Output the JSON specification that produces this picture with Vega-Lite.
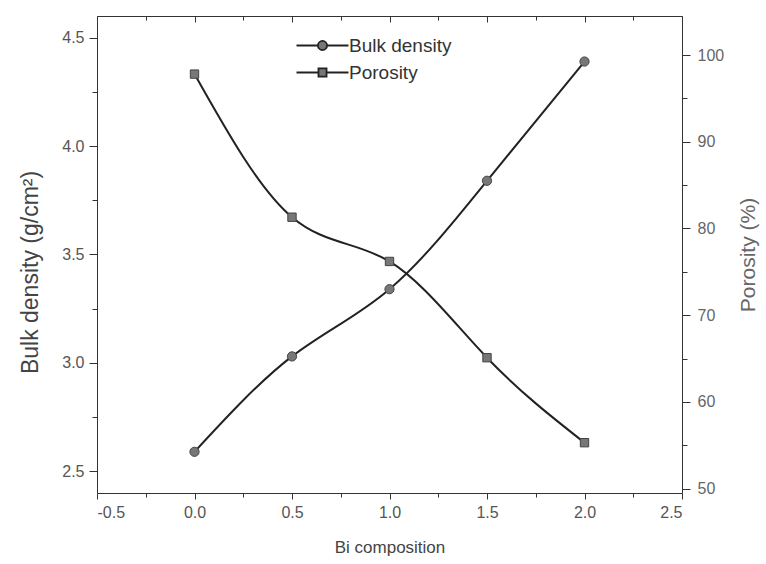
{
  "$schema": "https://vega.github.io/schema/vega-lite/v6.json",
  "autosize": "none",
  "width": 585,
  "height": 477,
  "padding": {"left": 97, "top": 16, "right": 84, "bottom": 71},
  "background": "white",
  "config": {
    "view": {"stroke": null},
    "font": "Liberation Sans",
    "axis": {
      "grid": false,
      "domainColor": "#333",
      "tickColor": "#333",
      "labelColor": "#555",
      "labelFont": "Liberation Sans",
      "labelFontSize": 16,
      "titleFont": "Liberation Sans",
      "titleFontSize": 17,
      "titleFontWeight": "normal",
      "titleColor": "#444"
    }
  },
  "data": {
    "values": [
      {"bi": 0.0, "series": "Bulk density", "value": 2.59},
      {"bi": 0.5, "series": "Bulk density", "value": 3.03},
      {"bi": 1.0, "series": "Bulk density", "value": 3.34},
      {"bi": 1.5, "series": "Bulk density", "value": 3.84},
      {"bi": 2.0, "series": "Bulk density", "value": 4.39},
      {"bi": 0.0, "series": "Porosity", "value": 97.8},
      {"bi": 0.5, "series": "Porosity", "value": 81.3},
      {"bi": 1.0, "series": "Porosity", "value": 76.2},
      {"bi": 1.5, "series": "Porosity", "value": 65.1},
      {"bi": 2.0, "series": "Porosity", "value": 55.3}
    ]
  },
  "layer": [
    {
      "transform": [{"filter": "datum.series == 'Bulk density'"}],
      "encoding": {
        "x": {
          "field": "bi", "type": "quantitative",
          "scale": {"domain": [-0.5, 2.5], "nice": false, "zero": false},
          "axis": {
            "orient": "bottom",
            "title": "Bi composition",
            "values": [-0.5, -0.25, 0, 0.25, 0.5, 0.75, 1, 1.25, 1.5, 1.75, 2, 2.25, 2.5],
            "labelExpr": "abs(datum.value*2 - round(datum.value*2)) < 0.001 ? replace(format(datum.value, '.1f'), '\u2212', '-') : ''",
            "tickSize": {"condition": {"test": "abs(datum.value*2 - round(datum.value*2)) < 0.001", "value": 6}, "value": 4},
            "labelPadding": 5,
            "titlePadding": 19
          }
        },
        "y": {
          "field": "value", "type": "quantitative",
          "scale": {"domain": [2.4, 4.6], "nice": false, "zero": false},
          "axis": {
            "orient": "left",
            "title": "Bulk density (g/cm²)",
            "titleFontSize": 23,
            "values": [2.5, 2.75, 3, 3.25, 3.5, 3.75, 4, 4.25, 4.5],
            "labelExpr": "abs(datum.value*2 - round(datum.value*2)) < 0.001 ? format(datum.value, '.1f') : ''",
            "tickSize": {"condition": {"test": "abs(datum.value*2 - round(datum.value*2)) < 0.001", "value": 8}, "value": 5},
            "labelPadding": 5,
            "titlePadding": 19,
            "titleY": 256
          }
        }
      },
      "layer": [
        {"mark": {"type": "line", "interpolate": "natural", "color": "#222", "strokeWidth": 2, "clip": true}},
        {"mark": {"type": "point", "shape": "circle", "filled": true, "fill": "#777", "stroke": "#444", "strokeWidth": 1, "size": 85, "opacity": 1}}
      ]
    },
    {
      "transform": [{"filter": "datum.series == 'Porosity'"}],
      "encoding": {
        "x": {
          "field": "bi", "type": "quantitative",
          "axis": {
            "orient": "top",
            "title": null,
            "labels": false,
            "values": [-0.5, -0.25, 0, 0.25, 0.5, 0.75, 1, 1.25, 1.5, 1.75, 2, 2.25, 2.5],
            "tickSize": {"condition": {"test": "abs(datum.value*2 - round(datum.value*2)) < 0.001", "value": -6}, "value": -4}
          }
        },
        "y": {
          "field": "value", "type": "quantitative",
          "scale": {"domain": [49.5, 104.5], "nice": false, "zero": false},
          "axis": {
            "orient": "right",
            "title": "Porosity (%)",
            "titleFontSize": 21,
            "titleAngle": 270,
            "titleBaseline": "top",
            "values": [50, 55, 60, 65, 70, 75, 80, 85, 90, 95, 100],
            "labelExpr": "datum.value % 10 == 0 ? datum.value : ''",
            "tickSize": {"condition": {"test": "datum.value % 10 == 0", "value": 8}, "value": 5},
            "labelColor": "#666",
            "titleColor": "#666",
            "labelPadding": 7,
            "titlePadding": 14
          }
        }
      },
      "layer": [
        {"mark": {"type": "line", "interpolate": "natural", "color": "#222", "strokeWidth": 2, "clip": true}},
        {"mark": {"type": "point", "shape": "square", "filled": true, "fill": "#777", "stroke": "#444", "strokeWidth": 1, "size": 70, "opacity": 1}}
      ]
    },
    {
      "transform": [{"filter": "datum.series == 'Bulk density'"}],
      "mark": {"type": "point", "filled": true, "color": "#777", "stroke": "#222", "strokeWidth": 1.8, "opacity": 0},
      "encoding": {
        "x": {"field": "bi", "type": "quantitative", "axis": null},
        "y": {"field": "value", "type": "quantitative", "axis": null, "scale": {"domain": [2.4, 4.6], "nice": false, "zero": false}},
        "shape": {
          "field": "series", "type": "nominal",
          "scale": {
            "domain": ["Bulk density", "Porosity"],
            "range": [
              "M-4,0H-0.7M0.7,0H4M0.7,0A0.7,0.7,0,1,1,-0.7,0A0.7,0.7,0,1,1,0.7,0Z",
              "M-4,0H-0.62M0.62,0H4M-0.62,-0.62H0.62V0.62H-0.62Z"
            ]
          },
          "legend": {
            "title": null,
            "orient": "none",
            "legendX": 216,
            "legendY": 20,
            "padding": 0,
            "symbolSize": 169,
            "symbolOpacity": 1,
            "symbolStrokeWidth": 1.8,
            "labelOffset": 17,
            "labelFont": "Liberation Sans",
            "labelFontSize": 19,
            "labelColor": "#333",
            "rowPadding": 7
          }
        }
      }
    }
  ],
  "resolve": {"scale": {"y": "independent"}, "axis": {"x": "independent", "y": "independent"}}
}
